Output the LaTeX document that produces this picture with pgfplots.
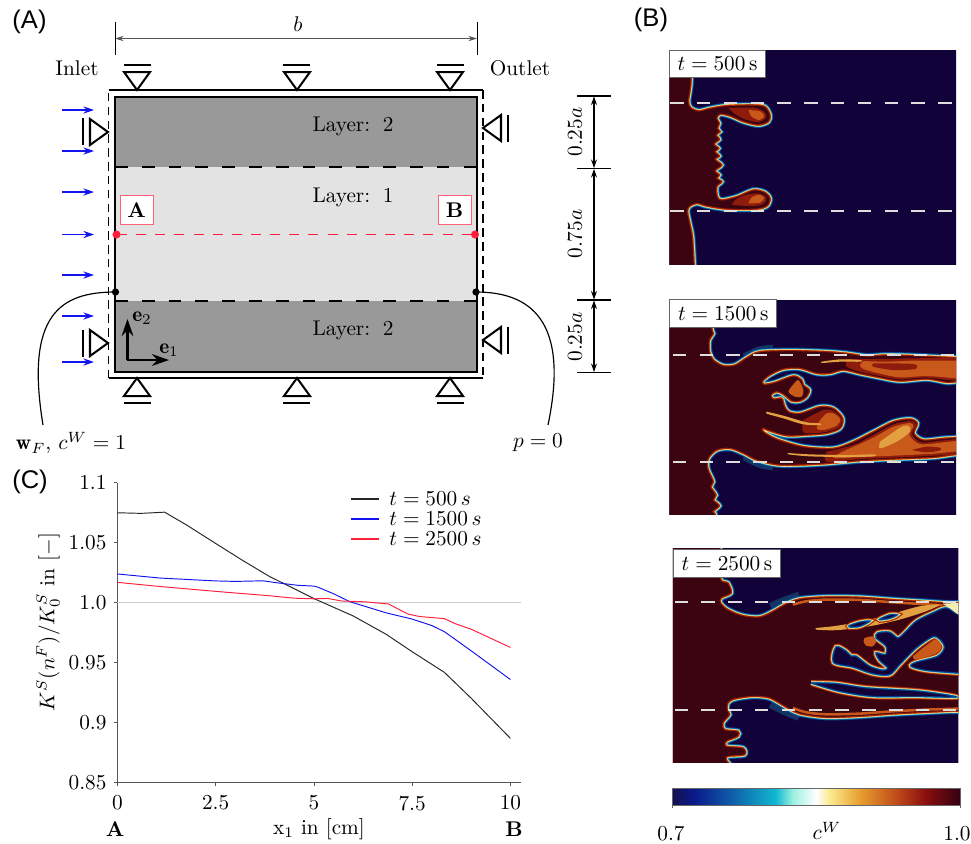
\documentclass[border=0pt]{standalone}
\usepackage{fontspec}
\usepackage{pgfplots}
\pgfplotsset{compat=1.18}
\usetikzlibrary{arrows.meta}
\newfontfamily\lab{Liberation Sans}
\definecolor{navy}{HTML}{12023A}
\definecolor{dred}{HTML}{3C0410}
\definecolor{eA}{HTML}{0A3F90}
\definecolor{eB}{HTML}{18A8C8}
\definecolor{eC}{HTML}{F4EFB0}
\definecolor{eD}{HTML}{E0801C}
\definecolor{eE}{HTML}{A02008}
\definecolor{orA}{HTML}{C8591A}
\definecolor{orB}{HTML}{E2A040}
\definecolor{orC}{HTML}{8E1C0C}
\definecolor{layD}{HTML}{999999}
\definecolor{layL}{HTML}{E3E3E3}
\definecolor{rd}{HTML}{FF1E3C}
\definecolor{blu}{HTML}{1414F0}
\definecolor{axc}{HTML}{555555}
\definecolor{c0}{HTML}{15104F}
\definecolor{c1}{HTML}{0A1A8C}
\definecolor{c2}{HTML}{0F5AA8}
\definecolor{c3}{HTML}{10B8D0}
\definecolor{c4}{HTML}{9FF0E0}
\definecolor{c5}{HTML}{FFFFFF}
\definecolor{c6}{HTML}{FBE88A}
\definecolor{c7}{HTML}{E8A030}
\definecolor{c8}{HTML}{C04A18}
\definecolor{c9}{HTML}{8A0F10}
\definecolor{c10}{HTML}{330010}
\pgfdeclarehorizontalshading{cwbar}{100bp}{color(0bp)=(c0); color(25bp)=(c0); color(29bp)=(c1); color(35bp)=(c2); color(43bp)=(c3); color(46bp)=(c4); color(50bp)=(c5); color(52.5bp)=(c6); color(57.5bp)=(c7); color(64bp)=(c8); color(69bp)=(c9); color(75bp)=(c10); color(100bp)=(c10)}
\newcommand\field[1]{%
\addplot[smooth,tension=0.5,draw=eA,line width=2.9pt] coordinates {#1};
\addplot[smooth,tension=0.5,draw=eB,line width=2.1pt] coordinates {#1};
\addplot[smooth,tension=0.5,draw=eC,line width=1.5pt] coordinates {#1};
\addplot[smooth,tension=0.5,draw=eD,line width=1.0pt] coordinates {#1};
\addplot[smooth,tension=0.5,draw=eE,fill=dred,line width=0.5pt] coordinates {#1};
}
\newcommand\hole[1]{%
\addplot[smooth,tension=0.5,draw=eE,line width=2.9pt] coordinates {#1};
\addplot[smooth,tension=0.5,draw=eD,line width=2.1pt] coordinates {#1};
\addplot[smooth,tension=0.5,draw=eC,line width=1.5pt] coordinates {#1};
\addplot[smooth,tension=0.5,draw=eB,line width=1.0pt] coordinates {#1};
\addplot[smooth,tension=0.5,draw=eA,fill=navy,line width=0.5pt] coordinates {#1};
}
\newcommand\patchf[2]{\addplot[smooth,tension=0.5,draw=none,fill=#1] coordinates {#2};}
\newcommand\glow[1]{\addplot[smooth,tension=0.5,draw=eB!30!navy,line width=5pt] coordinates {#1};}
\pgfplotsset{panel/.style={hide axis,scale only axis,y dir=reverse,anchor=north west,enlargelimits=false}}
\tikzset{wd/.style={draw=white!87!black,line width=0.9pt,dash pattern=on 6.3pt off 6.3pt}}
\begin{document}
\begin{tikzpicture}
\path[use as bounding box] (0,0) rectangle (456.37pt,-396.68pt);
% ---- panel t=500
\begin{axis}[panel,at={(314.65pt,-23.5pt)},width=134.7pt,height=100.6pt,xmin=28,xmax=888,ymin=30,ymax=672]
\fill[navy] (0,0) rectangle (950,720);
\field{(93,0)(93,114)(90,150)(85,185)(92,203)(115,213)(150,205)(200,197)(280,195)(315,200)(330,225)(325,245)(295,255)(250,245)(210,228)(180,222)(170,235)(178,250)(172,265)(180,275)(168,285)(178,298)(162,312)(176,325)(165,335)(178,348)(165,358)(185,375)(165,392)(178,405)(170,415)(185,425)(170,440)(172,470)(185,480)(230,470)(280,450)(315,457)(330,475)(322,497)(290,507)(200,507)(140,498)(110,490)(90,498)(82,512)(88,545)(97,590)(102,672)(105,720)(0,720)(0,0)(93,0)}
\patchf{orC}{(205,204)(280,203)(312,215)(318,232)(295,246)(255,238)(225,222)(205,204)}
\patchf{orA}{(265,210)(300,214)(312,228)(298,240)(275,230)(265,210)}
\patchf{orC}{(215,495)(280,498)(312,490)(318,472)(295,460)(255,465)(225,480)(215,495)}
\patchf{orA}{(265,490)(300,488)(312,474)(298,464)(275,472)(265,490)}
\draw[wd] (30,190) -- (875,190);
\draw[wd] (30,512) -- (875,512);
\end{axis}
% ---- panel t=1500
\begin{axis}[panel,at={(314.65pt,-141.0pt)},width=134.7pt,height=100.6pt,xmin=28,xmax=888,ymin=15,ymax=657]
\fill[navy] (0,0) rectangle (950,720);
\glow{(255,190)(300,170)(340,165)}
\glow{(255,480)(300,503)(340,510)}
\field{(155,0)(155,98)(160,115)(148,135)(148,170)(160,195)(190,212)(225,210)(260,188)(300,170)(400,167)(500,170)(560,175)(620,183)(680,180)(760,182)(888,188)(930,188)(930,262)(888,260)(860,262)(800,252)(720,258)(660,248)(600,236)(550,225)(510,235)(470,235)(420,220)(370,222)(330,240)(308,258)(312,268)(345,262)(400,243)(425,255)(430,270)(448,285)(440,305)(420,318)(395,318)(370,298)(350,290)(333,300)(340,312)(365,310)(372,330)(385,350)(420,355)(480,335)(520,340)(548,370)(540,400)(500,415)(440,420)(380,422)(330,408)(308,400)(310,410)(350,432)(430,455)(520,460)(580,440)(640,410)(700,380)(750,372)(772,385)(762,415)(790,435)(850,430)(888,428)(930,428)(930,478)(888,478)(820,487)(700,492)(600,497)(480,507)(360,510)(290,495)(250,475)(210,460)(170,465)(145,490)(143,520)(160,560)(152,575)(168,600)(160,615)(178,632)(158,650)(165,657)(155,700)(0,700)(0,0)(155,0)}
\patchf{orC}{(560,192)(680,192)(760,190)(930,193)(930,257)(800,248)(720,253)(660,243)(600,230)(560,215)(560,192)}
\patchf{orA}{(610,198)(680,200)(760,197)(888,197)(930,197)(930,252)(888,250)(800,243)(720,247)(660,236)(610,222)(600,210)(610,198)}
\patchf{orC}{(640,205)(700,205)(765,208)(765,222)(700,225)(640,215)(640,205)}
\patchf{orB}{(485,200)(540,193)(600,195)(600,200)(540,200)(485,204)(485,200)}
\patchf{orC}{(500,470)(580,450)(640,420)(700,388)(750,378)(768,388)(756,418)(785,442)(850,436)(930,432)(930,474)(820,482)(700,488)(600,492)(500,500)(500,470)}
\patchf{orA}{(560,464)(640,428)(700,395)(750,384)(760,395)(748,420)(780,447)(850,442)(888,438)(930,438)(930,470)(880,470)(820,476)(700,482)(600,486)(520,488)(560,464)}
\patchf{orB}{(385,474)(450,478)(560,480)(640,478)(640,484)(560,486)(450,484)(385,478)(385,474)}
\patchf{orB}{(660,440)(720,398)(745,392)(750,410)(710,440)(660,460)(660,440)}
\patchf{orC}{(755,465)(800,455)(840,458)(840,466)(800,472)(755,465)}
\patchf{orA}{(400,268)(415,255)(430,285)(425,305)(405,305)(385,290)(400,268)}
\patchf{orC}{(430,375)(490,345)(520,348)(545,372)(535,398)(490,412)(430,412)(430,375)}
\patchf{orA}{(480,375)(500,355)(520,355)(540,372)(530,392)(490,405)(470,400)(480,375)}
\patchf{orB}{(320,350)(370,362)(440,382)(480,385)(480,390)(430,388)(370,370)(320,356)(320,350)}
\draw[wd] (38,181) -- (885,181);
\draw[wd] (38,502) -- (885,502);
\end{axis}
% ---- panel t=2500
\begin{axis}[panel,at={(316.3pt,-258.0pt)},width=134.2pt,height=100.6pt,xmin=40,xmax=897,ymin=28,ymax=670]
\fill[navy] (0,0) rectangle (950,720);
\glow{(335,205)(375,188)(420,172)}
\glow{(335,490)(375,510)(420,528)}
\field{(182,0)(182,115)(205,130)(215,160)(185,175)(183,190)(205,210)(250,228)(300,232)(340,215)(375,195)(420,178)(500,172)(600,173)(700,180)(800,186)(860,190)(897,190)(950,190)(950,530)(897,515)(800,518)(700,523)(600,530)(500,533)(420,522)(375,500)(330,475)(280,470)(225,478)(205,490)(203,510)(210,525)(190,550)(195,570)(235,575)(235,590)(200,605)(200,620)(250,625)(255,645)(205,650)(200,660)(210,700)(0,700)(0,0)(182,0)}
\addplot[smooth,tension=0.5,draw=orA,line width=1.2pt] coordinates {(400,195)(440,185)(500,180)(600,181)(700,188)(800,194)(860,198)};
\addplot[smooth,tension=0.5,draw=orA,line width=1.2pt] coordinates {(400,505)(440,518)(500,524)(600,522)(700,515)(800,510)(897,507)};
\hole{(950,230)(897,225)(860,205)(820,220)(770,245)(735,280)(715,295)(690,278)(655,280)(650,295)(680,320)(678,345)(650,340)(660,362)(685,385)(670,392)(630,380)(590,350)(575,350)(560,335)(530,322)(522,368)(580,382)(640,402)(690,405)(720,375)(770,325)(825,290)(855,320)(835,350)(770,368)(755,380)(800,392)(897,400)(950,400)(950,230)}
\patchf{orA}{(760,350)(825,300)(846,320)(830,342)(770,360)(760,350)}
\hole{(455,430)(530,432)(620,445)(780,455)(890,472)(770,470)(640,470)(540,455)(455,430)}
\patchf{orA}{(615,295)(640,290)(650,305)(640,320)(620,318)(612,305)(615,295)}
\patchf{orB}{(470,265)(520,260)(570,252)(630,240)(700,222)(780,200)(840,195)(800,215)(720,240)(640,258)(570,268)(520,272)(470,270)(470,265)}
\hole{(570,258)(600,248)(630,245)(600,260)(570,262)(570,258)}
\hole{(662,238)(690,226)(712,226)(690,236)(662,240)(662,238)}
\patchf{eC}{(850,192)(897,190)(930,190)(930,235)(897,225)(870,205)(850,192)}
\draw[wd] (45,188) -- (895,188);
\draw[wd] (45,510) -- (895,510);
\end{axis}
% ---- panel C
\begin{axis}[scale only axis,anchor=north west,at={(55.2pt,-226.9pt)},width=189.5pt,height=141pt,
 xmin=0,xmax=10.26,ymin=0.85,ymax=1.1,
 xtick={0,2.5,5,7.5,10},xticklabels={0,2.5,5,7.5,10},
 ytick={0.85,0.9,0.95,1.0,1.05,1.1},yticklabels={0.85,0.9,0.95,1.0,1.05,1.1},
 axis line style={draw=axc,line width=0.55pt},tick style={draw=axc,line width=0.4pt},
 axis x line*=bottom,axis y line*=left,tick align=outside,major tick length=1.6pt,
 clip=false,xticklabel style={yshift=-1pt}]
\addplot[black!20,line width=0.5pt,forget plot] coordinates {(0,1.0)(10.26,1.0)};
\addplot[black!85,line width=0.45pt] coordinates {(0,1.075)(0.6,1.0745)(1.2,1.0755)(1.76,1.0648)(2.52,1.049)(3.2,1.035)(3.88,1.0217)(4.26,1.0156)(5,1.0035)(6,0.989)(6.85,0.9735)(7.5,0.9592)(8.32,0.942)(9,0.9205)(10,0.887)};
\addplot[blu,line width=0.45pt] coordinates {(0,1.024)(1.08,1.0206)(2.5,1.0182)(3,1.0178)(3.7,1.0183)(4.1,1.0165)(4.6,1.0145)(5,1.0139)(5.1,1.013)(5.5,1.0075)(5.92,1.0008)(6.6,0.994)(6.85,0.9915)(7.5,0.9864)(8,0.981)(8.32,0.9759)(9,0.96)(10,0.936)};
\addplot[rd,line width=0.45pt] coordinates {(0,1.017)(1.1,1.0135)(2.5,1.0095)(3.88,1.0058)(4.5,1.0038)(5,1.0033)(5.35,1.0036)(5.7,1.0015)(6.3,1.0008)(6.9,0.999)(7.1,0.9955)(7.4,0.9905)(7.7,0.9885)(8.32,0.9868)(8.6,0.9825)(9,0.978)(10,0.9628)};
\end{axis}
% ---- overlay in picture pixels
\begin{axis}[hide axis,scale only axis,anchor=north west,at={(0pt,0pt)},width=456.37pt,height=396.68pt,
 xmin=0,xmax=971,ymin=0,ymax=844,y dir=reverse,clip=false,enlargelimits=false]
% schematic
\fill[layD] (115,97) rectangle (477,372);
\fill[layL] (115,167) rectangle (477,301);
\draw[line width=0.95pt] (115,97) rectangle (477,372);
\draw[line width=0.8pt,dash pattern=on 6pt off 6.6pt] (115,167) -- (477,167);
\draw[line width=0.8pt,dash pattern=on 6pt off 6.6pt] (115,301) -- (477,301);
\draw[line width=0.85pt,dash pattern=on 4pt off 2.5pt] (108.5,378) -- (108.5,90);
\draw[line width=0.85pt,dash pattern=on 4pt off 2.5pt] (483,90) -- (483,378);
\draw[line width=0.95pt] (108.5,378) -- (483,378);
\draw[line width=0.95pt] (108.5,90) -- (483,90);
% supports
\draw[line width=0.95pt] (137,90) -- (124,72) -- (150,72) -- cycle; \draw[line width=1pt] (124,65) -- (151,65);
\draw[line width=0.95pt] (297,90) -- (284,72) -- (310,72) -- cycle; \draw[line width=1pt] (283,65) -- (310,65);
\draw[line width=0.95pt] (450,90) -- (437,72) -- (463,72) -- cycle; \draw[line width=1pt] (437,65) -- (464,65);
\draw[line width=0.95pt] (137,378) -- (124,396) -- (150,396) -- cycle; \draw[line width=1pt] (124,403) -- (151,403);
\draw[line width=0.95pt] (297,378) -- (284,396) -- (310,396) -- cycle; \draw[line width=1pt] (283,403) -- (310,403);
\draw[line width=0.95pt] (450,378) -- (437,396) -- (463,396) -- cycle; \draw[line width=1pt] (437,403) -- (464,403);
\draw[line width=0.95pt] (108,132) -- (90,119) -- (90,145) -- cycle; \draw[line width=1pt] (83,118) -- (83,145);
\draw[line width=0.95pt] (108,343) -- (90,330) -- (90,356) -- cycle; \draw[line width=1pt] (83,330) -- (83,357);
\draw[line width=0.95pt] (483,128) -- (501,115) -- (501,141) -- cycle; \draw[line width=1pt] (508,115) -- (508,142);
\draw[line width=0.95pt] (483,340) -- (501,327) -- (501,353) -- cycle; \draw[line width=1pt] (508,327) -- (508,354);
% inlet arrows
\draw[blu,line width=0.6pt,-{Stealth[length=5pt,width=3.4pt]}] (62,110) -- (94,110);
\draw[blu,line width=0.6pt,-{Stealth[length=5pt,width=3.4pt]}] (62,151) -- (94,151);
\draw[blu,line width=0.6pt,-{Stealth[length=5pt,width=3.4pt]}] (62,192) -- (94,192);
\draw[blu,line width=0.6pt,-{Stealth[length=5pt,width=3.4pt]}] (62,234.5) -- (94,234.5);
\draw[blu,line width=0.6pt,-{Stealth[length=5pt,width=3.4pt]}] (62,275) -- (94,275);
\draw[blu,line width=0.6pt,-{Stealth[length=5pt,width=3.4pt]}] (62,316) -- (94,316);
\draw[blu,line width=0.6pt,-{Stealth[length=5pt,width=3.4pt]}] (62,362) -- (94,362);
% red line
\draw[rd,line width=0.7pt,dash pattern=on 4.7pt off 4.3pt] (117,234.5) -- (475,234.5);
\fill[rd] (116.5,234.5) circle[radius=1.9pt];
\fill[rd] (475,234.5) circle[radius=1.9pt];
\node[draw=rd!70,fill=white,line width=0.45pt,minimum width=15.5pt,minimum height=14pt,inner sep=0pt] at (136.5,210) {\textbf{A}};
\node[draw=rd!70,fill=white,line width=0.45pt,minimum width=15.5pt,minimum height=14pt,inner sep=0pt] at (454.5,210) {\textbf{B}};
% curves
\draw[line width=0.55pt] (115.5,292) .. controls (60,292) and (25,315) .. (43,425);
\draw[line width=0.55pt] (476,292) .. controls (530,292) and (570,320) .. (548,425);
\fill (115.5,292) circle[radius=1.7pt];
\fill (476,292) circle[radius=1.7pt];
% base vectors
\draw[line width=1.1pt,-{Stealth[length=8pt,width=5.5pt]}] (127.5,360) -- (127.5,319);
\draw[line width=1.1pt,-{Stealth[length=8pt,width=5.5pt]}] (127,360) -- (169,360);
\node at (142,318) {$\mathbf{e}_2$};
\node at (169,350) {$\mathbf{e}_1$};
% dimensions
\draw[axc,line width=0.6pt,{Stealth[length=4pt,width=2.5pt]}-{Stealth[length=4pt,width=2.5pt]}] (115,38.5) -- (477,38.5);
\draw[line width=0.45pt] (115,22) -- (115,55);
\draw[line width=0.45pt] (477,22) -- (477,55);
\node at (298,24) {$b$};
\draw[line width=0.6pt] (577,96) -- (611,96);
\draw[line width=0.6pt] (577,168.5) -- (611,168.5);
\draw[line width=0.6pt] (577,300) -- (611,300);
\draw[line width=0.6pt] (577,372.5) -- (611,372.5);
\draw[line width=0.5pt,{Stealth[length=4pt,width=2.8pt]}-{Stealth[length=4pt,width=2.8pt]}] (594,96.5) -- (594,168);
\draw[line width=0.5pt,{Stealth[length=4pt,width=2.8pt]}-{Stealth[length=4pt,width=2.8pt]}] (594,169) -- (594,299.5);
\draw[line width=0.5pt,{Stealth[length=4pt,width=2.8pt]}-{Stealth[length=4pt,width=2.8pt]}] (594,300.5) -- (594,372);
\node[rotate=90] at (575,132) {$0.25a$};
\node[rotate=90] at (575,234) {$0.75a$};
\node[rotate=90] at (575,337) {$0.25a$};
% texts
\node at (353,126) {Layer:\hspace{1.5pt} 2};
\node at (353,197) {Layer:\hspace{1.5pt} 1};
\node at (353,330) {Layer:\hspace{1.5pt} 2};
\node at (77,68) {Inlet};
\node at (520,68) {Outlet};
\node at (71,443) {$\mathbf{w}_F$, $c^W=1$};
\node at (538,443) {$p=0$};
\node[font=\lab\fontsize{12}{14}\selectfont] at (29.5,22) {(A)};
\node[font=\lab\fontsize{12}{14}\selectfont] at (651,20) {(B)};
\node[font=\lab\fontsize{12}{14}\selectfont] at (30,482) {(C)};
% legend of panel C
\draw[black!85,line width=0.5pt] (351,499) -- (379,499);
\draw[blu,line width=0.5pt] (351,519) -- (379,519);
\draw[rd,line width=0.5pt] (351,539) -- (379,539);
\node[anchor=west,inner sep=0pt] at (389,499) {$t=500\,s$};
\node[anchor=west,inner sep=0pt] at (389,519) {$t=1500\,s$};
\node[anchor=west,inner sep=0pt] at (389,539) {$t=2500\,s$};
% panel labels
\node[draw=black!60,fill=white,line width=0.45pt,minimum width=44.8pt,minimum height=12.8pt,inner sep=0pt] at (717.5,64) {$t=500\,\mathrm{s}$};
\node[draw=black!60,fill=white,line width=0.45pt,minimum width=50.3pt,minimum height=13pt,inner sep=0pt] at (723.3,313.5) {$t=1500\,\mathrm{s}$};
\node[draw=black!60,fill=white,line width=0.45pt,minimum width=50pt,minimum height=12.8pt,inner sep=0pt] at (727,563.5) {$t=2500\,\mathrm{s}$};
% colour bar
\shade[shading=cwbar] (672,788) rectangle (960,805);
\draw[black!60,line width=0.4pt] (672,805) -- (672,788) -- (960,788) -- (960,805);
\draw[black!60,line width=0.4pt] (672,805) -- (960,805);
\draw[black!60,line width=0.4pt] (672,805) -- (672,808);
\draw[black!60,line width=0.4pt] (960,805) -- (960,808);
\node at (671,834) {0.7};
\node at (827,831) {$c^W$};
\node at (957,834) {1.0};
% axis captions
\node at (319,829) {x$_1$ in [cm]};
\node at (115,829) {\textbf{A}};
\node at (514,829) {\textbf{B}};
\node[rotate=90] at (48,622) {$K^S(n^F)/K_0^S$ in $[-]$};
\end{axis}
\end{tikzpicture}
\end{document}
